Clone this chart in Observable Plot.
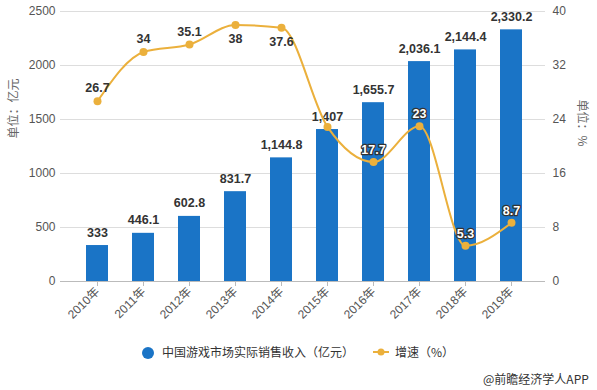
<!DOCTYPE html>
<html>
<head>
<meta charset="utf-8">
<script src="https://cdn.jsdelivr.net/npm/d3@7"></script>
<script src="https://cdn.jsdelivr.net/npm/@observablehq/plot@0.6"></script>
<style>
  body { margin: 0; background: #fff; font-family: "Noto Sans CJK SC", "Liberation Sans", sans-serif; }
  #wrap { position: relative; width: 597px; height: 390px; overflow: hidden; }
  #chart { position: absolute; left: 0; top: 0; }
  .leg { position: absolute; font-size: 12px; color: #333; white-space: nowrap; line-height: 16px; }
</style>
</head>
<body>
<div id="wrap">
  <div id="chart"></div>
  <div class="leg" style="left:142px; top:344px;">
    <span style="display:inline-block;width:12px;height:12px;border-radius:6px;background:#1a74c6;vertical-align:-2px;margin-right:8px;"></span>中国游戏市场实际销售收入（亿元）
  </div>
  <div class="leg" style="left:373px; top:344px;">
    <svg width="16" height="12" style="vertical-align:-1px;margin-right:6px;"><line x1="0" y1="6" x2="16" y2="6" stroke="#ebb03c" stroke-width="2"/><circle cx="8" cy="6" r="3.5" fill="#ebb03c"/></svg>增速（%）
  </div>
  <div class="leg" style="left:483px; top:371px;">@前瞻经济学人APP</div>
</div>
<script>
const years = ["2010年","2011年","2012年","2013年","2014年","2015年","2016年","2017年","2018年","2019年"];
const revenue = [333, 446.1, 602.8, 831.7, 1144.8, 1407, 1655.7, 2036.1, 2144.4, 2330.2];
const growth = [26.7, 34, 35.1, 38, 37.6, 22.9, 17.7, 23, 5.3, 8.7];
const leftTicks = [0, 500, 1000, 1500, 2000, 2500];
const rightTicks = [0, 8, 16, 24, 32, 40];

const leftMax = leftTicks[leftTicks.length - 1];
const rightMax = rightTicks[rightTicks.length - 1];
const k = leftMax / rightMax;

const data = years.map((y, i) => ({year: y, rev: revenue[i], g: growth[i], gy: growth[i] * k}));
const fmt = d3.format(",");
const lineColor = "#ebb03c";
const barColor = "#1a74c6";

const growthLabels = data.filter(d => Math.abs(d.gy - d.rev) > 100);
const nearTop = growthLabels.filter(d => d.gy > leftMax * 0.9);
const onBar = growthLabels.filter(d => d.gy < d.rev);
const above = growthLabels.filter(d => d.gy >= d.rev && d.gy <= leftMax * 0.9);

const chart = Plot.plot({
  width: 597,
  height: 340,
  marginTop: 11,
  marginBottom: 59,
  marginLeft: 60,
  marginRight: 52,
  style: {fontFamily: "'Liberation Sans', 'Noto Sans CJK SC', sans-serif", fontSize: "12px", color: "#555", background: "#fff"},
  x: {domain: years, range: [70.7, 536.3], paddingInner: 0.53, paddingOuter: 0.265, label: null},
  y: {domain: [0, leftMax], label: null},
  marks: [
    Plot.ruleY(leftTicks.filter(t => t > 0), {stroke: "#ddd", strokeWidth: 1}),
    Plot.ruleY([0], {stroke: "#bbb", strokeWidth: 1}),
    Plot.barY(data, {x: "year", y: "rev", fill: barColor}),
    Plot.axisX({tickRotate: -45, tickSize: 5, tickPadding: 3, stroke: "#bbb", fill: "#555", fontSize: 12, label: null}),
    Plot.axisY({ticks: leftTicks, tickFormat: d => String(d), tickSize: 0, tickPadding: 5, fill: "#555", fontSize: 12, label: null}),
    Plot.axisY({anchor: "right", ticks: rightTicks.map(t => t * k), tickFormat: d => String(Math.round(d / k)), tickSize: 0, tickPadding: 7, fill: "#555", fontSize: 12, label: null}),
    Plot.text(["单位：亿元"], {frameAnchor: "left", dx: -46, dy: -8, rotate: -90, fill: "#666", fontSize: 12, fontFamily: "Noto Sans CJK SC"}),
    Plot.text(["单位：%"], {frameAnchor: "right", dx: 36, dy: 0, rotate: 90, fill: "#666", fontSize: 12, fontFamily: "Noto Sans CJK SC"}),
    Plot.text(data, {x: "year", y: "rev", text: d => fmt(d.rev), dy: -13, fill: "#333", fontWeight: "bold", fontSize: 12.5}),
    Plot.line(data, {x: "year", y: "gy", stroke: lineColor, strokeWidth: 2, curve: "monotone-x"}),
    Plot.dot(data, {x: "year", y: "gy", r: 4, fill: lineColor}),
    Plot.text(above, {x: "year", y: "gy", text: d => String(d.g), dy: -13, fill: "#333", fontWeight: "bold", fontSize: 12.5}),
    Plot.text(nearTop, {x: "year", y: "gy", text: d => String(d.g), dy: 14, fill: "#333", fontWeight: "bold", fontSize: 12.5}),
    Plot.text(onBar, {x: "year", y: "gy", text: d => String(d.g), dy: -12, fill: "#fff", stroke: "#333", strokeWidth: 2.5, fontWeight: "bold", fontSize: 12.5})
  ]
});
document.getElementById("chart").appendChild(chart);
</script>
</body>
</html>
